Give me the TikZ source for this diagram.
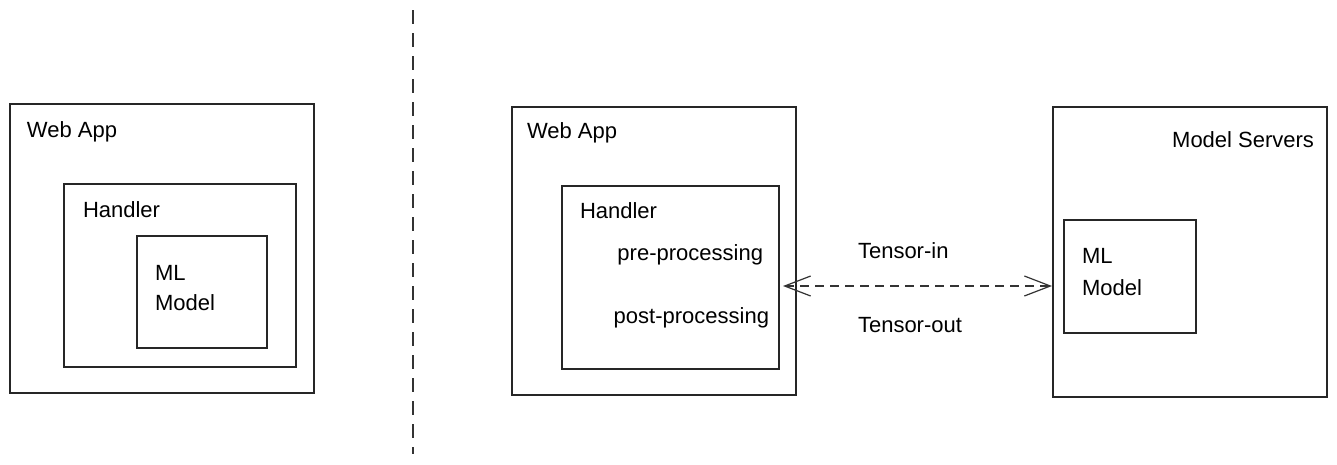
\documentclass[tikz,border=0pt]{standalone}
\usepackage{fontspec}
\setmainfont{Liberation Sans}
\usetikzlibrary{arrows.meta}
\tikzset{
  box/.style={draw=black!85, line width=1.3pt, inner sep=0pt, outer sep=0pt, anchor=north west, fill=none},
  lbl/.style={inner sep=0pt, outer sep=0pt, anchor=base west, font=\fontsize{22}{26}\selectfont, text=black},
  lblr/.style={lbl, anchor=base east},
  link/.style={draw=black!80, line width=1.2pt, dash pattern=on 9pt off 6pt,
    {Straight Barb[length=26pt,width=20pt,line width=1.2pt]}-{Straight Barb[length=26pt,width=20pt,line width=1.2pt]}},
  divider/.style={draw=black!80, line width=1.3pt, dash pattern=on 14pt off 9pt}
}
\begin{document}
\begin{tikzpicture}[x=1pt,y=-1pt]
\useasboundingbox[fill=white] (0,0) rectangle (1337,464);
% left part
\node[box, minimum width=304pt, minimum height=289pt] (web1) at (10,104) {};
\node[box, minimum width=232pt, minimum height=183pt] (hand1) at (64,184) {};
\node[box, minimum width=130pt, minimum height=112pt] (ml1) at (137,236) {};
\node[lbl] (web1t) at (27,137) {Web App};
\node[lbl] (hand1t) at (83,217) {Handler};
\node[lbl] (ml1t) at (155,280) {ML};
\node[lbl] (ml1m) at (155,310) {Model};
% divider
\coordinate (divtop) at (413,10);
\coordinate (divbot) at (413,454);
\draw[divider] (divtop) -- (divbot);
% middle part
\node[box, minimum width=284pt, minimum height=288pt] (web2) at (512,107) {};
\node[box, minimum width=217pt, minimum height=183pt] (hand2) at (562,186) {};
\node[lbl] (web2t) at (527,138) {Web App};
\node[lbl] (hand2t) at (580,218) {Handler};
\node[lblr] (pre) at (763,260) {pre-processing};
\node[lblr] (post) at (769,323) {post-processing};
\node[lbl] (tin) at (858,258) {Tensor-in};
\node[lbl] (tout) at (858,332) {Tensor-out};
% right part
\node[box, minimum width=274pt, minimum height=290pt] (srv) at (1053,107) {};
\node[box, minimum width=132pt, minimum height=113pt] (ml2) at (1064,220) {};
\node[lblr] (srvt) at (1314,147) {Model Servers};
\node[lbl] (ml2t) at (1082,263) {ML};
\node[lbl] (ml2m) at (1082,295) {Model};
% connector
\coordinate (aL) at (783,286);
\coordinate (aR) at (1052,286);
\draw[link] (aL) -- (aR);
\end{tikzpicture}
\end{document}
